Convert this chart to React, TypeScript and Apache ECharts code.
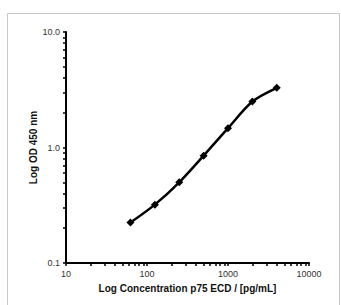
import React, { useEffect, useRef } from "react";
import * as echarts from "echarts";

const concentrations = [62.5, 125, 250, 500, 1000, 2000, 4000];
const odValues = [0.224, 0.32, 0.5, 0.85, 1.47, 2.5, 3.29];
const xMajorTicks = [10, 100, 1000, 10000];
const yMajorTicks = [0.1, 1, 10];
const xMinorTicks = [20, 30, 40, 50, 60, 70, 80, 90, 200, 300, 400, 500, 600, 700, 800, 900, 2000, 3000, 4000, 5000, 6000, 7000, 8000, 9000];
const yMinorTicks = [0.2, 0.3, 0.4, 0.5, 0.6, 0.7, 0.8, 0.9, 2, 3, 4, 5, 6, 7, 8, 9];
const xTitle = "Log Concentration p75 ECD / [pg/mL]";
const yTitle = "Log OD 450 nm";

export default function App() {
  const ref = useRef<HTMLDivElement>(null);
  useEffect(() => {
    const chart = echarts.init(ref.current!, null, { renderer: "svg" });
    const font = "'Liberation Sans', Arial, sans-serif";
    chart.setOption({
      animation: false,
      backgroundColor: "#fff",
      graphic: [
        {
          type: "rect",
          shape: { x: 7.5, y: 13.5, width: 332, height: 300 },
          style: { fill: "none", stroke: "#c8c8c8", lineWidth: 1 },
          silent: true,
        },
      ],
      grid: { left: 66, top: 32, right: 32, bottom: 42 },
      xAxis: {
        type: "log",
        logBase: 10,
        min: 10,
        max: 10000,
        name: xTitle,
        nameLocation: "middle",
        nameGap: 20,
        nameMoveOverlap: false,
        nameTextStyle: { fontFamily: font, fontSize: 10, fontWeight: "bold", color: "#111" },
        axisLine: { show: true, onZero: false, lineStyle: { color: "#000", width: 2 } },
        axisTick: {
          show: true,
          inside: false,
          length: 3,
          customValues: xMajorTicks.concat(xMinorTicks),
          lineStyle: { color: "#000", width: 1.5 },
        },
        axisLabel: { customValues: xMajorTicks, fontFamily: font, fontSize: 9, color: "#333", margin: 6, formatter: (v: number) => String(Math.round(v)) },
        splitLine: { show: false },
      },
      yAxis: {
        type: "log",
        logBase: 10,
        min: 0.1,
        max: 10,
        name: yTitle,
        nameLocation: "middle",
        nameGap: 28,
        nameMoveOverlap: false,
        nameTextStyle: { fontFamily: font, fontSize: 10, fontWeight: "bold", color: "#111" },
        axisLine: { show: true, onZero: false, lineStyle: { color: "#000", width: 2 } },
        axisTick: {
          show: true,
          inside: false,
          length: 3,
          customValues: yMajorTicks.concat(yMinorTicks),
          lineStyle: { color: "#000", width: 1.5 },
        },
        axisLabel: { customValues: yMajorTicks, fontFamily: font, fontSize: 9, color: "#333", margin: 6, formatter: (v: number) => v.toFixed(1) },
        splitLine: { show: false },
      },
      series: [
        {
          type: "line",
          data: concentrations.map((c, i) => [c, odValues[i]]),
          smooth: 0.3,
          symbol: "diamond",
          symbolSize: 8,
          lineStyle: { color: "#000", width: 2.5 },
          itemStyle: { color: "#000" },
        },
      ],
    });
    return () => chart.dispose();
  }, []);
  return (
    <div
      ref={ref}
      style={{ position: "fixed", left: 0, top: 0, width: 341, height: 305 }}
    />
  );
}
